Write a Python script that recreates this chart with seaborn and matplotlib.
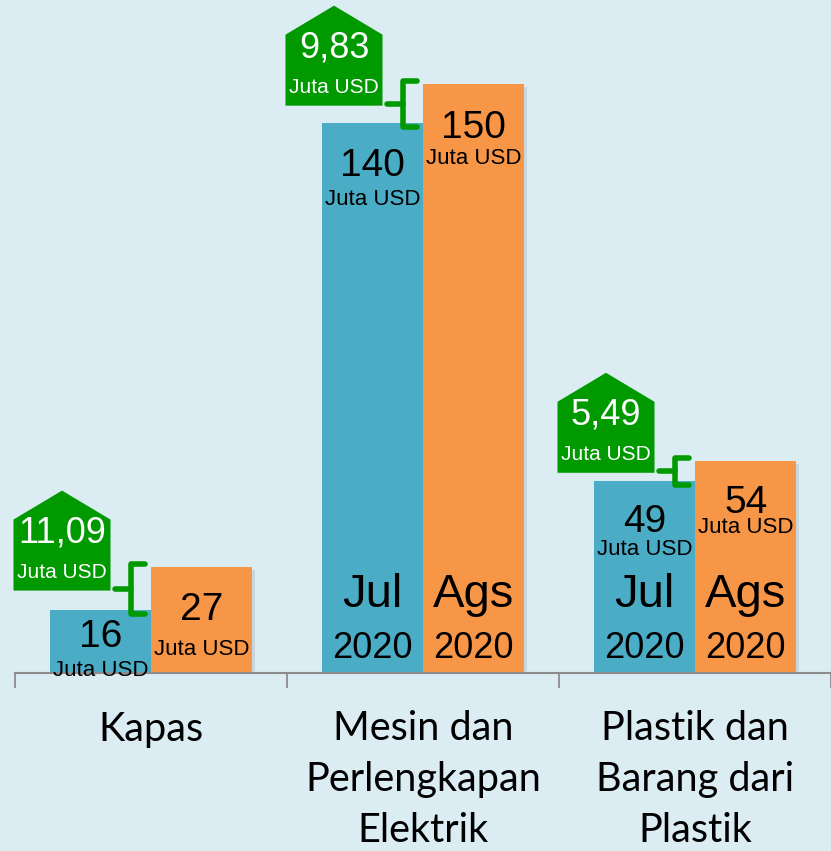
import numpy as np
import pandas as pd
import matplotlib
matplotlib.use("Agg")
import matplotlib.pyplot as plt
import matplotlib.transforms as mtransforms
import matplotlib.patheffects as pe
from matplotlib.patches import Polygon
import seaborn as sns

# data
kategori = ["Kapas", "Mesin dan\nPerlengkapan\nElektrik", "Plastik dan\nBarang dari\nPlastik"]
bulan = ["Jul 2020", "Ags 2020"]
nilai_jul = [16, 140, 49]
nilai_ags = [27, 150, 54]
selisih = ["11,09", "9,83", "5,49"]
satuan = "Juta USD"

bg = "#dbecf3"
biru = "#4bacc6"
oranye = "#f79646"
hijau = "#009a00"

df = pd.DataFrame({
    "kategori": kategori * 2,
    "bulan": [bulan[0]] * 3 + [bulan[1]] * 3,
    "nilai": nilai_jul + nilai_ags,
})

sns.set_style("white")
plt.rcParams["font.family"] = ["Liberation Sans", "DejaVu Sans"]
plt.rcParams["text.color"] = "black"
plt.rcParams["xtick.color"] = "black"

fig = plt.figure(figsize=(8.31, 8.51), dpi=100, facecolor=bg)
ax = fig.add_axes([15 / 831, 178 / 851, 816 / 831, 673 / 851])
ax.set_facecolor(bg)

sns.barplot(data=df, x="kategori", y="nilai", hue="bulan", hue_order=bulan,
            palette=[biru, oranye], width=0.745, saturation=1, linewidth=0,
            legend=False, ax=ax)

ax.set_xlim(-0.5, -0.5 + 816 / 273.5)
ax.set_ylim(0, 171.4)
ax.set_xlabel("")
ax.set_ylabel("")
ax.set_yticks([])
for s in ["top", "right", "left"]:
    ax.spines[s].set_visible(False)
ax.spines["bottom"].set_color("#8c8c8c")
ax.spines["bottom"].set_linewidth(1.5)

ax.set_xticks([0, 1, 2])
ax.set_xticklabels(kategori, fontfamily="Lato", fontsize=28.5, linespacing=1.45, color="black")
ax.set_xticks([-0.5, 0.5, 1.5, 2.5], minor=True)
ax.tick_params(axis="x", which="major", bottom=True, length=0, pad=27)
ax.tick_params(axis="x", which="minor", bottom=True, length=11, width=1.3, color="#8c8c8c")

for bar in ax.patches:
    bar.set_path_effects([pe.SimplePatchShadow(offset=(2, -2), shadow_rgbFace="#9aa8ad", alpha=0.3),
                          pe.Normal()])

# value label offsets (px below bar top): number, unit
offs = [[(-27, -60), (-43, -76), (-41, -69)],
        [(-43, -83), (-44, -74), (-42, -67)]]

bars_jul = ax.containers[0]
bars_ags = ax.containers[1]
for j, cont in enumerate([bars_jul, bars_ags]):
    for i, bar in enumerate(cont):
        cx = bar.get_x() + bar.get_width() / 2
        h = bar.get_height()
        ax.annotate(f"{h:.0f}", (cx, h), xytext=(0, offs[j][i][0]), textcoords="offset pixels",
                    ha="center", va="center", fontsize=28, zorder=5)
        ax.annotate(satuan, (cx, h), xytext=(0, offs[j][i][1]), textcoords="offset pixels",
                    ha="center", va="center", fontsize=16, zorder=5)
        if i > 0:
            bl, th = bulan[j].split()
            ax.annotate(bl, (cx, 0), xytext=(0, 78), textcoords="offset pixels",
                        ha="center", va="center", fontsize=34, zorder=5)
            ax.annotate(th, (cx, 0), xytext=(0, 25), textcoords="offset pixels",
                        ha="center", va="center", fontsize=26, zorder=5)

# green callouts with bracket
for i in range(3):
    b1 = bars_jul[i]
    b2 = bars_ags[i]
    h1 = b1.get_height()
    h2 = b2.get_height()
    mid = (h1 + h2) / 2
    xb = b2.get_x()
    gx = (b1.get_x() + b2.get_x() + b2.get_width()) / 2

    tr = fig.dpi_scale_trans + mtransforms.ScaledTranslation(gx, mid, ax.transData)
    pent = np.array([(-48.5, -2), (48.5, -2), (48.5, 69), (0, 98), (-48.5, 69)]) / 100
    pent[:, 0] -= 0.89
    ax.add_patch(Polygon(pent, closed=True, facecolor=hijau, edgecolor="none",
                         transform=tr, zorder=6, clip_on=False))
    ax.text(-0.89, 0.56, selisih[i], transform=tr, ha="center", va="center",
            color="white", fontsize=26, zorder=7)
    ax.text(-0.89, 0.16, satuan, transform=tr, ha="center", va="center",
            color="white", fontsize=15, zorder=7)

    xtr = fig.dpi_scale_trans + mtransforms.ScaledTranslation(xb, 0, ax.transData)
    btr = mtransforms.blended_transform_factory(xtr, ax.transData)
    top = h2 + 0.8
    bot = h1 - 1.0
    ax.plot([-0.06, -0.2, -0.2, -0.06], [top, top, bot, bot], color=hijau, lw=4,
            solid_joinstyle="round", solid_capstyle="round", transform=btr, zorder=6, clip_on=False)
    ax.plot([-0.2, -0.36], [mid, mid], color=hijau, lw=4,
            solid_capstyle="round", transform=btr, zorder=6, clip_on=False)

fig.savefig("out.png", dpi=100, facecolor=bg)
